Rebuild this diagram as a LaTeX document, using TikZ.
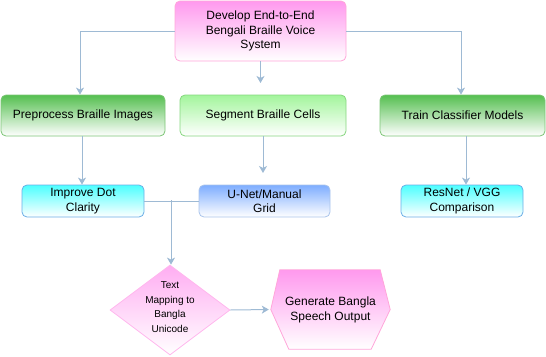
\documentclass[tikz,border=0pt]{standalone}
\usepackage{fontspec}
\setmainfont{Liberation Sans}
\usetikzlibrary{shapes.geometric,arrows.meta,backgrounds}

\definecolor{linkc}{HTML}{9EBAD4}
\definecolor{pinktop}{HTML}{FF99EE}
\definecolor{pinkline}{HTML}{FFA6DA}
\definecolor{greentop}{HTML}{55BF50}
\definecolor{greenline}{HTML}{7CC576}
\definecolor{lgreentop}{HTML}{A3F59C}
\definecolor{lgreenline}{HTML}{86D67F}
\definecolor{cyantop}{HTML}{4DFFFF}
\definecolor{cyanline}{HTML}{6AAEE6}
\definecolor{bluetop}{HTML}{7EADFF}
\definecolor{blueline}{HTML}{A9C4EB}
\definecolor{diamtop}{HTML}{FFADF2}
\definecolor{diamline}{HTML}{FFB8EE}

\tikzset{
  box/.style={draw, rounded corners=5pt, line width=0.8pt, inner sep=0pt,
    align=center, font=\fontsize{12}{14.5}\selectfont},
  goalbox/.style={box, draw=pinkline, top color=pinktop, bottom color=white},
  greenbox/.style={box, draw=greenline, top color=greentop, bottom color=white},
  lgreenbox/.style={box, draw=lgreenline, top color=lgreentop, bottom color=white},
  cyanbox/.style={box, draw=cyanline, top color=cyantop, bottom color=white},
  bluebox/.style={box, draw=blueline, top color=bluetop, bottom color=white},
  link/.style={draw=linkc, line width=1pt,
    -{Stealth[length=7pt,width=8pt,inset=2pt]}},
  plainlink/.style={draw=linkc, line width=1pt},
}

\begin{document}
\begin{tikzpicture}[x=1pt,y=-1pt]
\useasboundingbox (0,0) rectangle (546,356);

% goal
\node[goalbox, minimum width=171pt, minimum height=60pt] (goal) at (260.5,31)
  {Develop End-to-End\\Bengali Braille Voice\\System};

% main stages
\node[greenbox, minimum width=164pt, minimum height=41pt] (pre) at (83,115.5)
  {Preprocess Braille Images};
\node[lgreenbox, minimum width=166pt, minimum height=41pt] (seg) at (263,115.5)
  {Segment Braille Cells};
\node[greenbox, minimum width=165pt, minimum height=41pt] (train) at (462.5,115.5)
  {Train Classifier Models};

% methods
\node[cyanbox, minimum width=122pt, minimum height=32pt] (imp) at (83,201)
  {Improve Dot\\Clarity};
\node[bluebox, minimum width=131pt, minimum height=32pt] (unet) at (264.5,201)
  {U-Net/Manual\\Grid};
\node[cyanbox, minimum width=122pt, minimum height=32pt] (res) at (462,201)
  {ResNet / VGG\\Comparison};

% text mapping decision
\node[diamond, draw=diamline, line width=0.8pt, top color=diamtop, bottom color=white,
  minimum width=120pt, minimum height=90pt, inner sep=0pt,
  label={[font=\fontsize{10}{14.7}\selectfont, align=center, yshift=3pt]center:Text\\Mapping to\\Bangla\\Unicode}]
  (map) at (170,310) {};

% speech output
\node[minimum width=119pt, minimum height=79pt, inner sep=0pt, align=center,
  font=\fontsize{12}{15}\selectfont] (gen) at (330.5,309.5)
  {Generate Bangla\\Speech Output};
\begin{scope}[on background layer]
  \path[draw=pinkline, line width=0.8pt, top color=pinktop, bottom color=white]
    (gen.west) -- ([xshift=9pt]gen.north west) -- ([xshift=-10pt]gen.north east)
    -- (gen.east) -- ([xshift=-19pt]gen.south east) -- ([xshift=18pt]gen.south west)
    -- cycle;
\end{scope}

% arrow ends that stop short of their boxes
\coordinate (segend) at (260.5,83);
\coordinate (unetend) at (263,173);
\coordinate (junc) at (171,200);

% connectors
\draw[link] (goal.west) -| ([xshift=-3pt]pre.north);
\draw[link] (goal.south) -- (segend);
\draw[link] (goal.east) -| ([xshift=-1.5pt]train.north);
\draw[link] ([xshift=-1pt]pre.south) -- ([xshift=-1pt]imp.north);
\draw[link] (seg.south) -- (unetend);
\draw[link] ([xshift=3.5pt]train.south) -- ([xshift=3.5pt]train.south |- res.north);
\draw[plainlink] (imp.east) -- (unet.west);
\draw[link] (junc) -- ([xshift=1pt]map.north);
\draw[link, shorten >=2pt] (map.east) -- (gen.west);
\end{tikzpicture}
\end{document}
